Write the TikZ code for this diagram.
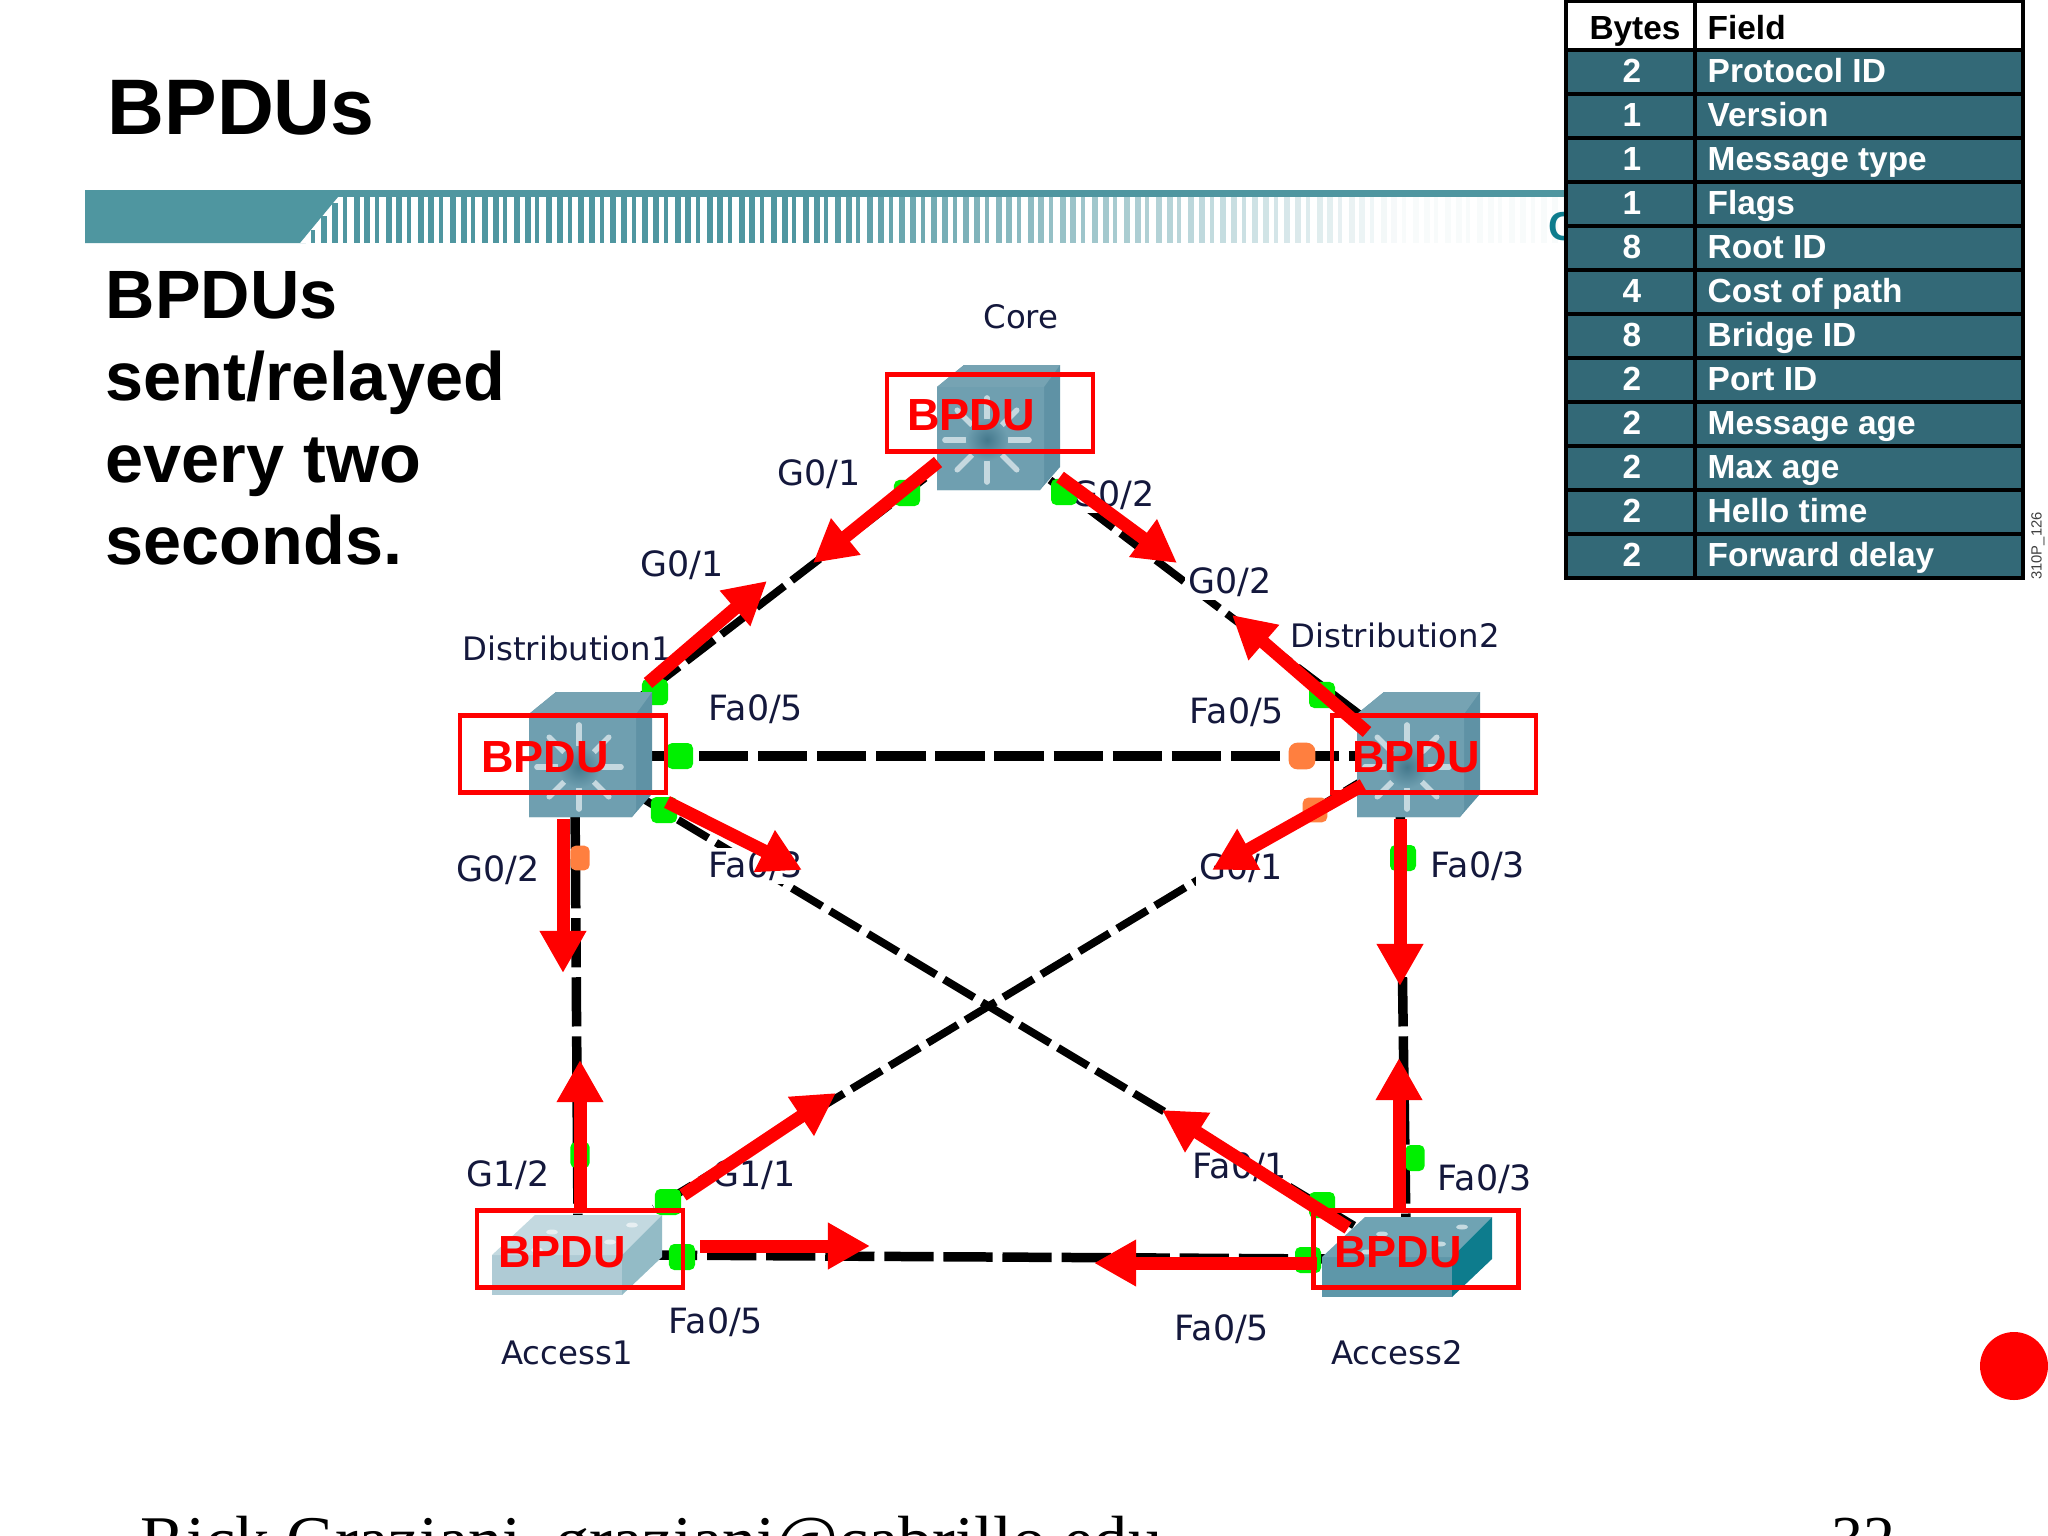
\documentclass[tikz,border=0pt]{standalone}
\usepackage{fontspec}
\setmainfont{Liberation Sans}
\newfontfamily\labelfont{DejaVu Sans}
\newfontfamily\footfont{Liberation Serif}
\usetikzlibrary{arrows.meta}
\definecolor{banner}{HTML}{4F96A0}
\definecolor{rowfill}{HTML}{336977}
\definecolor{portgreen}{HTML}{00F000}
\definecolor{portorange}{HTML}{FF7F3F}
\definecolor{swfront}{HTML}{6F9FB0}
\definecolor{swtop}{HTML}{76A3B3}
\definecolor{swside}{HTML}{5F92A5}
\definecolor{swhub}{HTML}{44788C}
\definecolor{lblue}{HTML}{AFCBD5}
\definecolor{lbluetop}{HTML}{C3D9E0}
\definecolor{lblueside}{HTML}{93BBC6}
\definecolor{dblue}{HTML}{5E97A9}
\definecolor{dbluetop}{HTML}{6FA3B3}
\definecolor{dblueside}{HTML}{0D7C8D}
\definecolor{labelink}{HTML}{14183C}
\tikzset{
 x=0.01cm,y=-0.01cm,
 titletext/.style={anchor=base west,inner sep=0pt,font=\bfseries\fontsize{22.4}{26}\selectfont},
 bodytext/.style={anchor=base west,inner sep=0pt,font=\bfseries\fontsize{19.45}{23}\selectfont},
 foottext/.style={anchor=base west,inner sep=0pt,font=\footfont\fontsize{19.4}{22}\selectfont},
 pagetext/.style={anchor=base west,inner sep=0pt,font=\footfont\fontsize{18.2}{22}\selectfont},
 cellhead/.style={inner sep=0pt,text=black,anchor=base,font=\bfseries\fontsize{9.5}{11}\selectfont},
 cellrow/.style={inner sep=0pt,text=white,anchor=base,font=\bfseries\fontsize{9.5}{11}\selectfont},
 plink/.style={line width=2.7pt,black,dash pattern=on 14pt off 2.8pt},
 dlink/.style={line width=2.2pt,black,dash pattern=on 10pt off 2.6pt},
 namelabel/.style={fill=white,inner sep=1pt,text=labelink,font=\labelfont\fontsize{9.2}{11}\selectfont},
 portlabel/.style={fill=white,inner sep=1pt,text=labelink,font=\labelfont\fontsize{9.9}{11}\selectfont},
 greenport/.style={fill=portgreen,rounded corners=1.5pt,minimum size=7.4pt,inner sep=0pt},
 orangeport/.style={fill=portorange,rounded corners=1.5pt,minimum size=7pt,inner sep=0pt},
 redarrow/.style={draw=red,line width=3.7pt,-{Triangle[length=12pt,width=12.5pt,fill=red]}},
 redbox/.style={draw=red,line width=1.25pt,fill=none,inner sep=0pt,minimum height=77*0.2845pt},
 bpdutext/.style={text=red,inner sep=0pt,font=\bfseries\fontsize{12.8}{15}\selectfont},
 spoke/.style={line width=1.6pt,white,opacity=.6,line cap=round},
}
\newcommand{\mlswitch}[3]{%
 \begin{scope}[shift={(#2,#3)}]
  \fill[swside] (0,22) -- (27,0) -- (123,0) -- (123,102) -- (103,125) -- (0,125) -- cycle;
  \fill[swtop] (0,22) -- (27,0) -- (123,0) -- (107,22) -- cycle;
  \fill[swfront] (0,22) -- (107,22) -- (107,118) -- (103,125) -- (0,125) -- cycle;
  \foreach \a in {0,45,...,315}{\draw[spoke] (50,75)++(\a:22) -- ++(\a:20);}
  \shade[inner color=swhub,outer color=swfront] (50,75) circle (21);
  \node[minimum width=123*0.2845pt,minimum height=125*0.2845pt,inner sep=0pt] (#1) at (61,62) {};
 \end{scope}}
\newcommand{\lanswitch}[6]{%
 \begin{scope}[shift={(#2,#3)}]
  \fill[#4] (0,40) -- (130,40) -- (130,80) -- (0,80) -- cycle;
  \fill[#5] (0,40) -- (43,0) -- (170,0) -- (130,40) -- cycle;
  \fill[#6] (130,40) -- (170,0) -- (170,42) -- (130,80) -- cycle;
  \foreach \p in {(60,17),(140,10),(118,27),(45,35)}{\fill[white,opacity=.6] \p ellipse (6 and 2.5);}
  \node[minimum width=170*0.2845pt,minimum height=80*0.2845pt,inner sep=0pt] (#1) at (85,40) {};
 \end{scope}}
\newcommand{\bpduarrow}[3]{\coordinate (#1s) at (#2); \coordinate (#1e) at (#3); \draw[redarrow] (#1s) -- (#1e);}
\begin{document}
\begin{tikzpicture}
\useasboundingbox (0,0) rectangle (2048,1536);
\begin{scope}
\clip (0,0) rectangle (2048,1536);
\fill[white] (0,0) rectangle (2048,1536);
% banner
\fill[banner] (85,190) rectangle (1566,197);
\fill[banner] (85,197) -- (338,197) -- (300,243) -- (85,243) -- cycle;
\foreach \n in {0,...,118}{
  \pgfmathsetmacro{\xx}{300+\n*10.7}
  \pgfmathsetmacro{\ytop}{max(197,243-(\n*10.7)*1.25)}
  \pgfmathsetmacro{\pct}{\xx<800 ? 100 : max(4,100-(\xx-800)*0.16)}
  \pgfmathsetmacro{\wid}{mod(\n,3)==1 ? 4 : 6}
  \fill[banner!\pct!white] (\xx,\ytop) rectangle (\xx+\wid,243);
}
\node[inner sep=0pt,text=dblueside,font=\bfseries\fontsize{11.5}{13}\selectfont] (logoc) at (1563,227) {C};
% title and text
\node[titletext] (title) at (107,134) {BPDUs};
\node[bodytext] (b1) at (105,318) {BPDUs};
\node[bodytext] (b2) at (105,400) {sent/relayed};
\node[bodytext] (b3) at (105,482) {every two};
\node[bodytext] (b4) at (105,564) {seconds.};
% footer
\node[foottext] (foot) at (140,1563) {Rick Graziani\ \ graziani@cabrillo.edu};
\node[pagetext] (pageno) at (1831,1560) {32};
% table
\fill[white] (1566,0) rectangle (2023,50);
\fill[rowfill] (1566,50) rectangle (2023,578);
\draw[black,line width=0.9pt] (1566,1) rectangle (2023,578);
\draw[black,line width=0.9pt] (1695,1) -- (1695,578);
\foreach \r in {1,...,12}{\draw[black,line width=0.9pt] (1566,6+44*\r) -- (2023,6+44*\r);}
\node[cellhead] (hb) at (1635,39) {Bytes};
\node[cellhead,anchor=base west] (hf) at (1707,39) {Field};
\foreach \r/\b/\f in {1/2/Protocol ID,2/1/Version,3/1/Message type,4/1/Flags,5/8/Root ID,6/4/Cost of path,7/8/Bridge ID,8/2/Port ID,9/2/Message age,10/2/Max age,11/2/Hello time,12/2/Forward delay}{
  \node[cellrow] (rb\r) at (1632,38+44*\r) {\b};
  \node[cellrow,anchor=base west] (rf\r) at (1707,38+44*\r) {\f};
}
\node[rotate=90,inner sep=0pt,text=black!75,font=\fontsize{4.2}{5}\selectfont] (figid) at (2038,546) {310P\_126};
\fill[red] (2014,1366) circle (34);
% link ends
\coordinate (cL) at (925,478);
\coordinate (cR) at (1050,480);
\coordinate (d1T) at (640,697);
\coordinate (d2T) at (1362,716);
\coordinate (d1E) at (640,756);
\coordinate (d2W) at (1370,756);
\coordinate (d1B) at (575,800);
\coordinate (d2B) at (1400,800);
\coordinate (d1D) at (640,797);
\coordinate (d2D) at (1375,773);
\coordinate (a1T) at (578,1225);
\coordinate (a2T) at (1406,1230);
\coordinate (a1R) at (654,1208);
\coordinate (a2L) at (1365,1232);
\coordinate (a1E) at (648,1255);
\coordinate (a2W) at (1330,1259);
\draw[dlink] (cL) -- (d1T);
\draw[dlink] (cR) -- (d2T);
\draw[plink] (d1E) -- (d2W);
\draw[plink] (d1B) -- (a1T);
\draw[plink] (d2B) -- (a2T);
\draw[dlink] (d1D) -- (a2L);
\draw[dlink] (d2D) -- (a1R);
\draw[plink] (a1E) -- (a2W);
% labels
\node[namelabel] (lcore) at (1021,317) {Core};
\node[portlabel] (l1) at (819,474) {G0/1};
\node[portlabel] (l2) at (1113,495) {G0/2};
\node[portlabel] (l3) at (682,565) {G0/1};
\node[portlabel] (l4) at (1230,582) {G0/2};
\node[namelabel] (ld1) at (567,648) {Distribution1};
\node[namelabel] (ld2) at (1395,635) {Distribution2};
\node[portlabel] (l5) at (756,709) {Fa0/5};
\node[portlabel] (l6) at (1237,712) {Fa0/5};
\node[portlabel] (l7) at (756,866) {Fa0/3};
\node[portlabel] (l8) at (498,870) {G0/2};
\node[portlabel] (l9) at (1241,868) {G0/1};
\node[portlabel] (l10) at (1478,866) {Fa0/3};
\node[portlabel] (l11) at (508,1175) {G1/2};
\node[portlabel] (l12) at (754,1175) {G1/1};
\node[portlabel] (l13) at (1240,1167) {Fa0/1};
\node[portlabel] (l14) at (1485,1179) {Fa0/3};
\node[portlabel] (l15) at (716,1322) {Fa0/5};
\node[portlabel] (l16) at (1222,1329) {Fa0/5};
\node[namelabel] (la1) at (567,1353) {Access1};
\node[namelabel] (la2) at (1397,1353) {Access2};
% ports
\node[greenport] (p1) at (907,493) {};
\node[greenport] (p2) at (1064,492) {};
\node[greenport] (p3) at (655,692) {};
\node[greenport] (p4) at (680,756) {};
\node[greenport] (p5) at (664,810) {};
\node[orangeport,minimum width=5.5pt] (p6) at (580,858) {};
\node[greenport] (p7) at (1322,695) {};
\node[orangeport,minimum size=7.6pt,rounded corners=2.5pt] (p8) at (1302,756) {};
\node[orangeport] (p9) at (1315,810) {};
\node[greenport] (p10) at (1403,858) {};
\node[greenport,minimum width=5.5pt] (p11) at (580,1155) {};
\node[greenport] (p12) at (668,1202) {};
\node[greenport] (p13) at (682,1257) {};
\node[greenport,minimum width=5.5pt] (p14) at (1415,1158) {};
\node[greenport] (p15) at (1322,1205) {};
\node[greenport] (p16) at (1308,1260) {};
% switches
\mlswitch{core}{937}{365}
\mlswitch{dist1}{529}{692}
\mlswitch{dist2}{1357}{692}
\lanswitch{acc1}{492}{1215}{lblue}{lbluetop}{lblueside}
\lanswitch{acc2}{1322}{1217}{dblue}{dbluetop}{dblueside}
% boxes
\node[redbox,minimum width=206*0.2845pt] (bc) at (990,413) {};
\node[redbox,minimum width=206*0.2845pt] (bd1) at (563,754) {};
\node[redbox,minimum width=204*0.2845pt] (bd2) at (1434,754) {};
\node[redbox,minimum width=206*0.2845pt] (ba1) at (580,1249) {};
\node[redbox,minimum width=205*0.2845pt] (ba2) at (1416,1249) {};
% arrows
\bpduarrow{ca}{938,462}{813,563}
\bpduarrow{cb}{1060,477}{1177,563}
\bpduarrow{da}{648,683}{767,581}
\bpduarrow{ea}{1367,732}{1232,615}
\bpduarrow{db}{667,802}{802,870}
\bpduarrow{eb}{1363,785}{1212,870}
\bpduarrow{dc}{563,819}{563,973}
\bpduarrow{ec}{1400,819}{1400,986}
\bpduarrow{fa}{580,1209}{580,1060}
\bpduarrow{fb}{683,1195}{836,1093}
\bpduarrow{fc}{700,1246}{870,1246}
\bpduarrow{ga}{1317,1263}{1094,1263}
\bpduarrow{gb}{1399,1209}{1399,1058}
\bpduarrow{gc}{1348,1228}{1162,1110}
% BPDU texts
\node[bpdutext] (tc) at (971,415) {BPDU};
\node[bpdutext] (td1) at (545,757) {BPDU};
\node[bpdutext] (td2) at (1416,757) {BPDU};
\node[bpdutext] (ta1) at (562,1252) {BPDU};
\node[bpdutext] (ta2) at (1398,1252) {BPDU};
\end{scope}
\end{tikzpicture}
\end{document}
